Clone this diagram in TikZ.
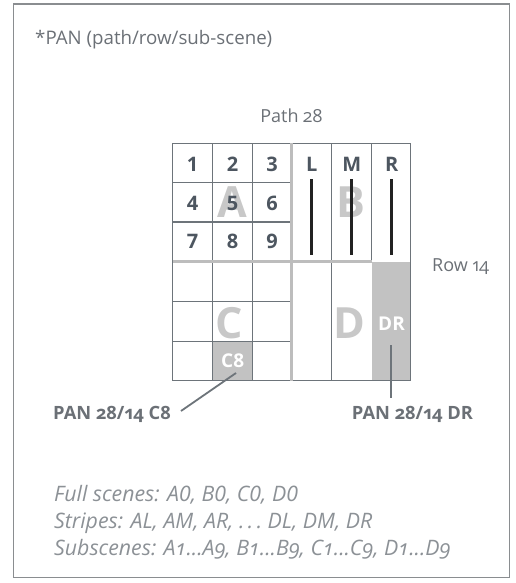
\documentclass[tikz,border=0pt]{standalone}
\usepackage{fontspec}
\setmainfont{Open Sans}[Numbers=OldStyle]
\newfontfamily\lnumfont{Open Sans}[Numbers=Lining]
\definecolor{framec}{HTML}{8A8D90}
\definecolor{gridc}{HTML}{6D747A}
\definecolor{thickc}{HTML}{BDBDBD}
\definecolor{fillc}{HTML}{C2C2C2}
\definecolor{bigc}{HTML}{C8C8C8}
\definecolor{numc}{HTML}{4D5660}
\definecolor{txtc}{HTML}{6B7076}
\definecolor{notec}{HTML}{8C9196}
\definecolor{barc}{HTML}{222222}
\begin{document}
\begin{tikzpicture}[x=1pt,y=-1pt,
  gridline/.style={draw=gridc, line width=1.1pt},
  thickline/.style={draw=thickc, line width=3.5pt},
  barline/.style={draw=barc, line width=2.6pt},
  cellfill/.style={fill=fillc},
  bigletter/.style={text=bigc, font=\fontsize{43}{43}\selectfont\bfseries, inner sep=0pt},
  numlabel/.style={text=numc, font=\lnumfont\fontsize{20}{20}\selectfont\bfseries, inner sep=0pt},
  whitelabel/.style={text=white, font=\lnumfont\fontsize{19}{19}\selectfont\bfseries, inner sep=0pt},
  panlabel/.style={text=txtc, font=\fontsize{18.3}{18.3}\selectfont\bfseries, inner sep=0pt},
  graylabel/.style={text=txtc, font=\fontsize{18}{18}\selectfont, inner sep=0pt},
  notelabel/.style={text=notec, font=\fontsize{21.3}{21.3}\selectfont\itshape, inner sep=0pt},
  leader/.style={draw=gridc, line width=1.8pt}
]
\useasboundingbox (0,0) rectangle (515,583);
\draw[draw=framec, line width=1.1pt] (13.5,4) rectangle (509.5,577.5);

% fills
\fill[cellfill] (371.7,261.7) rectangle (410.7,380.7);
\fill[cellfill] (212.7,341.7) rectangle (252.7,380.7);

% thin grid
\draw[gridline] (172.7,143.3) rectangle (410.7,380.7);
\draw[gridline] (212.7,143.3) -- (212.7,380.7);
\draw[gridline] (252.7,143.3) -- (252.7,380.7);
\draw[gridline] (331.7,143.3) -- (331.7,380.7);
\draw[gridline] (371.7,143.3) -- (371.7,261.7);
\draw[gridline] (172.7,182.7) -- (291.7,182.7);
\draw[gridline] (172.7,222) -- (291.7,222);
\draw[gridline] (172.7,301.7) -- (291.7,301.7);
\draw[gridline] (172.7,341.7) -- (291.7,341.7);

% thick dividers
\draw[thickline] (291.7,143.3) -- (291.7,380.7);
\draw[thickline] (172.7,261.7) -- (371.7,261.7);

% big letters
\node[bigletter] (bigA) at (232.3,202) {A};
\node[bigletter] (bigB) at (351,202) {B};
\node[bigletter] (bigC) at (229.5,323) {C};
\node[bigletter] (bigD) at (349,323) {D};

% black stripe bars
\draw[barline] (311.7,179.3) -- (311.7,255);
\draw[barline] (351.7,179.3) -- (351.7,255);
\draw[barline] (391.7,179.3) -- (391.7,255);

% numbers
\node[numlabel] (n1) at (192.7,164.5) {1};
\node[numlabel] (n2) at (232.7,164.5) {2};
\node[numlabel] (n3) at (272.2,164.5) {3};
\node[numlabel] (n4) at (192.7,203) {4};
\node[numlabel] (n5) at (232.7,203) {5};
\node[numlabel] (n6) at (272.2,203) {6};
\node[numlabel] (n7) at (192.7,241.5) {7};
\node[numlabel] (n8) at (232.7,241.5) {8};
\node[numlabel] (n9) at (272.2,241.5) {9};
\node[numlabel] (sL) at (311.7,164.5) {L};
\node[numlabel] (sM) at (351.7,164.5) {M};
\node[numlabel] (sR) at (391.7,164.5) {R};

\node[whitelabel] (dr) at (391.5,324) {DR};
\node[whitelabel] (c8) at (232.7,360.5) {C8};

% labels
\node[graylabel, anchor=base west, font=\fontsize{18.7}{18.7}\selectfont] (title) at (35,45) {*PAN (path/row/sub-scene)};
\node[graylabel, anchor=base] (path) at (291.5,123) {Path 28};
\node[graylabel, anchor=base west] (row) at (432,271) {Row 14};

\node[panlabel, anchor=base east] (panc8) at (171,419) {PAN 28/14 C8};
\node[panlabel, anchor=base] (pandr) at (412.5,419) {PAN 28/14 DR};

\coordinate (c8a) at (236,373);
\coordinate (c8b) at (181,411);
\coordinate (dra) at (391,345);
\coordinate (drb) at (391,398);
\draw[leader] (c8a) -- (c8b);
\draw[leader] (dra) -- (drb);

\node[notelabel, anchor=base west] (note1) at (54,501) {Full scenes: A{\lnumfont 0}, B{\lnumfont 0}, C{\lnumfont 0}, D{\lnumfont 0}};
\node[notelabel, anchor=base west] (note2) at (54,528) {Stripes: AL, AM, AR, .\,.\,.\ DL, DM, DR};
\node[notelabel, anchor=base west] (note3) at (54,555) {Subscenes: A1...A9, B1...B9, C1...C9, D1...D9};
\end{tikzpicture}
\end{document}
